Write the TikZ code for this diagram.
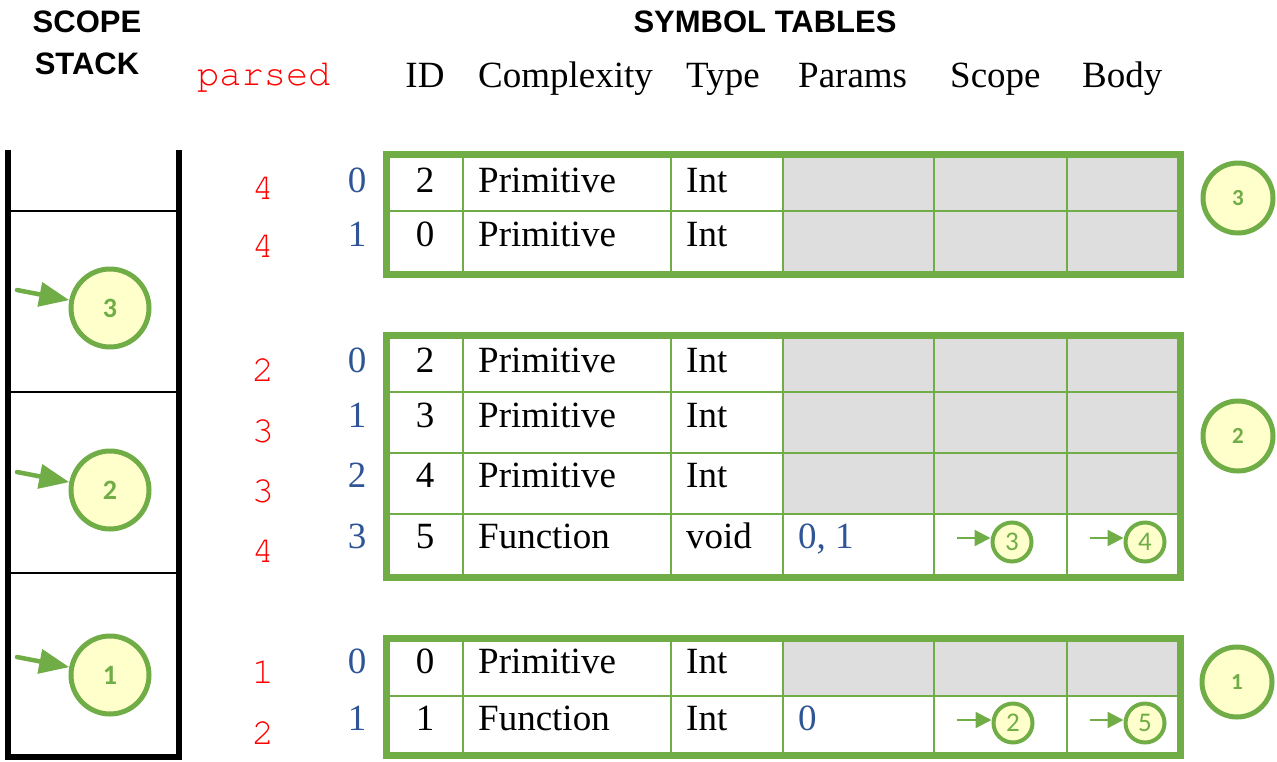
\documentclass[tikz,border=0pt]{standalone}
\usepackage{fontspec}
\setmainfont{Liberation Serif}
\newfontfamily\headfont{Liberation Sans}
\newfontfamily\codefont{TeX Gyre Cursor}
\newfontfamily\circfont{Carlito}
\usetikzlibrary{arrows.meta}

\definecolor{tgreen}{HTML}{70AD47}
\definecolor{tfill}{HTML}{FFFFCC}
\definecolor{tgray}{HTML}{DEDEDE}
\definecolor{tblue}{HTML}{2F5597}
\definecolor{tred}{HTML}{FF0000}

\tikzset{
  heading/.style={font=\headfont\bfseries\fontsize{31}{38}\selectfont, inner sep=0pt, anchor=base},
  colhead/.style={font=\fontsize{37}{40}\selectfont, inner sep=0pt, anchor=base west},
  celltext/.style={font=\fontsize{37}{40}\selectfont, inner sep=0pt, anchor=base west},
  idtext/.style={font=\fontsize{37}{40}\selectfont, inner sep=0pt, anchor=base},
  idxnum/.style={font=\fontsize{37}{40}\selectfont, text=tblue, inner sep=0pt, anchor=base},
  paramtext/.style={font=\fontsize{37}{40}\selectfont, text=tblue, inner sep=0pt, anchor=base west},
  parsednum/.style={font=\codefont\fontsize{37}{40}\selectfont, text=tred, inner sep=0pt, anchor=base},
  stackcirc/.style={circle, draw=tgreen, fill=tfill, line width=5pt, minimum size=78pt, inner sep=0pt,
    text=tgreen, font=\circfont\bfseries\fontsize{28}{30}\selectfont},
  tabcirc/.style={circle, draw=tgreen, fill=tfill, line width=5pt, minimum size=70pt, inner sep=0pt,
    text=tgreen, font=\circfont\bfseries\fontsize{23}{26}\selectfont},
  refcirc/.style={circle, draw=tgreen, fill=tfill, line width=4pt, minimum size=39pt, inner sep=0pt,
    text=tgreen, font=\circfont\fontsize{27}{30}\selectfont},
  stackarrow/.style={draw=tgreen, line width=4.5pt, line cap=round,
    -{Triangle[length=30pt,width=24pt]}},
  refarrow/.style={draw=tgreen, line width=2.2pt, -{Triangle[length=16pt,width=16pt]}},
  innerline/.style={draw=tgreen, line width=2.5pt},
  outerline/.style={draw=tgreen, line width=7pt, line join=miter},
  stackline/.style={draw=black, line width=6pt, line join=miter},
  stackdiv/.style={draw=black, line width=2.5pt},
}

% grid of one symbol table: #1 top, #2 bottom, #3 row separators, #4 lower edge of the grey block
\newcommand\tablegrid[4]{%
  \fill[tgray] (783,#1) rectangle (1180,#4);
  \foreach \yy in {#3} \draw[innerline] (386,\yy) -- (1180,\yy);
  \foreach \xx in {463,671,783,934,1067} \draw[innerline] (\xx,#1) -- (\xx,#2);
  \draw[outerline] (386,#1) rectangle (1180,#2);
}

% one symbol row: #1 name, #2 baseline, #3 parsed baseline, #4 parsed value,
% #5 index, #6 id, #7 complexity, #8 type
\newcommand\symrow[8]{%
  \node[parsednum] (#1p) at (263,#3) {#4};
  \node[idxnum] (#1i) at (357,#2) {#5};
  \node[idtext] (#1d) at (425,#2) {#6};
  \node[celltext] (#1c) at (478,#2) {#7};
  \node[celltext] (#1t) at (686,#2) {#8};
}

\begin{document}
\begin{tikzpicture}[x=1pt, y=-1pt]
\useasboundingbox (0,0) rectangle (1277,761);

% headings
\node[heading] (hscope) at (87,32) {SCOPE};
\node[heading] (hstack) at (87,74) {STACK};
\node[heading] (htables) at (765,32) {SYMBOL TABLES};
\node[parsednum, anchor=base west] (hparsed) at (197,85) {parsed};
\node[idtext] (hid) at (425,87) {ID};
\node[colhead] (hcomp) at (478,87) {Complexity};
\node[colhead] (htype) at (686,87) {Type};
\node[colhead] (hparams) at (798,87) {Params};
\node[colhead] (hscopecol) at (950,87) {Scope};
\node[colhead] (hbody) at (1082,87) {Body};

% scope stack
\draw[stackdiv] (8,211) -- (179,211);
\draw[stackdiv] (8,392) -- (179,392);
\draw[stackdiv] (8,573) -- (179,573);
\draw[stackline] (8,150) -- (8,757) -- (179,757) -- (179,150);

\node[stackcirc] (s3) at (110,308) {3};
\node[stackcirc] (s2) at (110,490) {2};
\node[stackcirc] (s1) at (110,675) {1};
\coordinate (a3) at (17,290);
\coordinate (a2) at (17,472);
\coordinate (a1) at (17,657);
\draw[stackarrow] (a3) -- (s3);
\draw[stackarrow] (a2) -- (s2);
\draw[stackarrow] (a1) -- (s1);

% symbol table of scope 3
\tablegrid{154}{274}{211}{274}
\symrow{ta}{192}{199}{4}{0}{2}{Primitive}{Int}
\symrow{tb}{246}{257}{4}{1}{0}{Primitive}{Int}
\node[tabcirc] (t3) at (1238,198) {3};

% symbol table of scope 2
\tablegrid{335}{577}{392,453,514}{514}
\symrow{ua}{372}{381}{2}{0}{2}{Primitive}{Int}
\symrow{ub}{427}{442}{3}{1}{3}{Primitive}{Int}
\symrow{uc}{487}{502}{3}{2}{4}{Primitive}{Int}
\symrow{ud}{548}{562}{4}{3}{5}{Function}{void}
\node[paramtext] (udpar) at (798,548) {0, 1};
\node[refcirc] (udsc) at (1012,542) {3};
\node[refcirc] (udbo) at (1145,542) {4};
\coordinate (udsca) at (957,538);
\coordinate (udboa) at (1090,538);
\draw[refarrow] (udsca) -- (udsca -| udsc.west);
\draw[refarrow] (udboa) -- (udboa -| udbo.west);
\node[tabcirc] (t2) at (1238,436) {2};

% symbol table of scope 1
\tablegrid{638}{755}{696}{696}
\symrow{va}{673}{683}{1}{0}{0}{Primitive}{Int}
\symrow{vb}{730}{744}{2}{1}{1}{Function}{Int}
\node[paramtext] (vbpar) at (798,730) {0};
\node[refcirc] (vbsc) at (1013,723) {2};
\node[refcirc] (vbbo) at (1145,723) {5};
\coordinate (vbsca) at (957,720);
\coordinate (vbboa) at (1090,720);
\draw[refarrow] (vbsca) -- (vbsca -| vbsc.west);
\draw[refarrow] (vbboa) -- (vbboa -| vbbo.west);
\node[tabcirc] (t1) at (1237,682) {1};
\end{tikzpicture}
\end{document}
